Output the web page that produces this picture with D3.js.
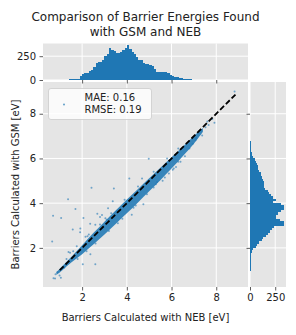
<!DOCTYPE html>
<html>
<head>
<meta charset="utf-8">
<script src="https://cdn.jsdelivr.net/npm/d3@7"></script>
<style>
	body { margin: 0; background: #fff; }
	svg text { font-family: "DejaVu Sans", sans-serif; fill: #222; }
	.tick line { stroke: #333; }
</style>
</head>
<body>
<svg id="chart" width="296" height="335"></svg>
<script>
// histogram bins, width 0.1 eV
const nebBinStart = 0.6;
const nebCounts = [1, 2, 3, 3, 4, 4, 5, 5, 6, 6, 7, 8, 10, 40, 58, 70, 78, 95, 110, 140,
	175, 185, 192, 212, 250, 275, 340, 318, 305, 285, 280, 292, 320, 332, 365, 330, 295, 270, 238, 215,
	208, 178, 172, 165, 160, 148, 120, 88, 84, 82, 85, 80, 70, 55, 40, 35, 30, 22, 16, 13,
	10, 8, 6, 5, 4, 4, 3, 3, 3, 2, 2, 2, 2, 1, 1, 1, 1, 1, 1, 1, 1, 1, 1, 1];
const gsmBinStart = 0.5;
const gsmCounts = [1, 2, 3, 4, 4, 5, 5, 6, 6, 7, 8, 10, 14, 20, 32, 55, 72, 90, 115, 130,
	157, 180, 195, 222, 240, 335, 340, 300, 262, 258, 275, 310, 335, 340, 305, 230, 262, 225, 210, 190,
	175, 150, 140, 142, 138, 130, 118, 110, 105, 90, 80, 75, 72, 60, 50, 30, 22, 16, 12, 9,
	7, 6, 5, 4, 4, 3, 3, 3, 2, 2, 2, 2, 1, 1, 1, 1, 1, 1, 1, 1, 1, 1, 1, 1, 1];

// dense band of points (upper / lower envelope of GSM per NEB)
const bandNEB = [0.85, 1.0, 1.5, 2.0, 2.5, 3.0, 3.5, 4.0, 4.5, 5.0, 5.5, 6.0, 6.5, 7.0, 7.4];
const bandHi = [0.92, 1.07, 1.58, 2.12, 2.66, 3.17, 3.67, 4.16, 4.63, 5.11, 5.58, 6.05, 6.52, 7.00, 7.36];
const bandLo = [0.80, 0.90, 1.33, 1.72, 2.15, 2.60, 3.07, 3.55, 4.03, 4.53, 5.03, 5.55, 6.10, 6.66, 7.18];

// single points outside the dense band
const pointNEB = [0.70, 1.06, 0.66, 1.37, 1.70, 1.58, 1.92, 2.03, 2.59, 2.37, 2.42, 3.42, 3.37, 2.89, 3.04,
	4.98, 4.68, 7.92, 8.82, 0.81, 0.72, 0.90, 2.59, 2.15, 3.16, 4.11, 7.33, 5.35, 5.88, 7.22,
	7.52, 7.37, 7.07, 7.66, 6.95, 7.82, 1.91, 2.06, 2.36, 2.68, 2.80, 1.46, 1.05, 0.79, 0.99,
	1.39, 1.76, 2.24, 3.10, 3.55, 4.22, 4.74, 5.60, 6.20, 6.40, 6.05, 5.20, 4.40, 3.80, 1.20,
	3.20, 3.60, 4.30, 4.90, 5.30, 5.70, 6.10, 6.30, 6.60, 6.80, 7.10, 2.20, 2.60, 1.80, 2.80,
	3.30, 3.90, 4.50, 5.20, 5.80, 6.30, 1.30, 1.60, 2.30, 7.60];
const pointGSM = [3.44, 3.34, 2.28, 4.18, 3.74, 2.82, 2.87, 1.27, 1.27, 1.71, 4.69, 4.66, 4.09, 3.47, 3.32,
	5.99, 5.10, 7.60, 8.99, 0.82, 0.64, 0.91, 3.03, 2.50, 3.77, 5.10, 7.26, 4.95, 5.33, 7.18,
	7.40, 7.03, 6.81, 7.50, 6.66, 7.77, 2.70, 3.34, 3.08, 3.53, 3.38, 1.78, 0.66, 0.63, 0.77,
	1.82, 2.07, 2.52, 3.26, 3.63, 3.48, 3.95, 5.00, 5.62, 5.85, 5.50, 4.70, 3.90, 3.30, 1.12,
	2.75, 3.10, 3.80, 4.40, 4.85, 5.15, 5.55, 5.85, 6.10, 6.45, 6.90, 1.85, 2.20, 1.50, 3.05,
	3.55, 4.15, 4.75, 5.40, 6.00, 6.45, 1.50, 1.85, 2.60, 7.65];

const lineEnds = [1.0, 8.92];
const axisTicks = [2, 4, 6, 8];
const countTicks = [0, 250];
const legendLines = ['MAE: 0.16', 'RMSE: 0.19'];
const titleLines = ['Comparison of Barrier Energies Found', 'with GSM and NEB'];

const blue = '#1f77b4';
const bg = '#e5e5e5';

let svg = d3.select('#chart');

let main = {left: 43, right: 248, top: 82, bottom: 287};
let topH = {top: 43.5, bottom: 80};
let rightH = {left: 250, right: 286};

let x = d3.scaleLinear().domain([0.25, 9.42]).range([main.left, main.right]);
let y = d3.scaleLinear().domain([0.25, 9.42]).range([main.bottom, main.top]);
let cTop = d3.scaleLinear().domain([0, d3.max(nebCounts) * 1.05]).range([topH.bottom, topH.top]);
let cRight = d3.scaleLinear().domain([0, d3.max(gsmCounts) * 1.05]).range([rightH.left, rightH.right]);

function panel(x0, y0, x1, y1) {
	svg.append('rect')
		.attr('x', x0).attr('y', y0)
		.attr('width', x1 - x0).attr('height', y1 - y0)
		.attr('fill', bg);
}

function styleAxis(g) {
	g.select('.domain').remove();
	g.selectAll('.tick line').attr('stroke', '#333').attr('stroke-width', 0.8);
	g.selectAll('.tick text').attr('font-size', 10).attr('fill', '#222');
}

// backgrounds
panel(main.left, main.top, main.right, main.bottom);
panel(main.left, topH.top, main.right, topH.bottom);
panel(rightH.left, main.top, rightH.right, main.bottom);

// grid lines
let grid = svg.append('g').attr('stroke', '#fff').attr('stroke-width', 1);
axisTicks.forEach((t) => {
	grid.append('line').attr('x1', x(t)).attr('x2', x(t)).attr('y1', main.top).attr('y2', main.bottom);
	grid.append('line').attr('x1', main.left).attr('x2', main.right).attr('y1', y(t)).attr('y2', y(t));
	grid.append('line').attr('x1', x(t)).attr('x2', x(t)).attr('y1', topH.top).attr('y2', topH.bottom);
	grid.append('line').attr('x1', rightH.left).attr('x2', rightH.right).attr('y1', y(t)).attr('y2', y(t));
});
countTicks.forEach((t) => {
	grid.append('line').attr('x1', main.left).attr('x2', main.right).attr('y1', cTop(t)).attr('y2', cTop(t));
	grid.append('line').attr('x1', cRight(t)).attr('x2', cRight(t)).attr('y1', main.top).attr('y2', main.bottom);
});

// top histogram (NEB)
svg.append('g').attr('shape-rendering', 'crispEdges').selectAll('rect')
	.data(nebCounts)
	.enter().append('rect')
	.attr('x', (d, i) => x(nebBinStart + i * 0.1))
	.attr('width', (d, i) => x(nebBinStart + (i + 1) * 0.1) - x(nebBinStart + i * 0.1) + 0.3)
	.attr('y', (d) => cTop(d))
	.attr('height', (d) => cTop(0) - cTop(d))
	.attr('fill', blue);

// right histogram (GSM)
svg.append('g').attr('shape-rendering', 'crispEdges').selectAll('rect')
	.data(gsmCounts)
	.enter().append('rect')
	.attr('x', cRight(0))
	.attr('width', (d) => cRight(d) - cRight(0))
	.attr('y', (d, i) => y(gsmBinStart + (i + 1) * 0.1))
	.attr('height', (d, i) => y(gsmBinStart + i * 0.1) - y(gsmBinStart + (i + 1) * 0.1) + 0.3)
	.attr('fill', blue);

// dense band
let band = bandNEB.map((d, i) => ({x: d, lo: bandLo[i], hi: bandHi[i]}));
svg.append('path')
	.datum(band)
	.attr('d', d3.area()
		.x((d) => x(d.x))
		.y0((d) => y(d.lo))
		.y1((d) => y(d.hi))
		.curve(d3.curveCatmullRom))
	.attr('fill', blue)
	.attr('fill-opacity', 0.88);

// scattered points
svg.append('g').selectAll('circle')
	.data(pointNEB)
	.enter().append('circle')
	.attr('cx', (d) => x(d))
	.attr('cy', (d, i) => y(pointGSM[i]))
	.attr('r', 1)
	.attr('fill', blue)
	.attr('fill-opacity', 0.6);

// parity line
svg.append('line')
	.attr('x1', x(lineEnds[0])).attr('y1', y(lineEnds[0]))
	.attr('x2', x(lineEnds[1])).attr('y2', y(lineEnds[1]))
	.attr('stroke', '#000')
	.attr('stroke-width', 1.8)
	.attr('stroke-dasharray', '5.5,2.6');

// axes
let ax = svg.append('g').attr('transform', 'translate(0,' + main.bottom + ')')
	.call(d3.axisBottom(x).tickValues(axisTicks).tickSize(3.5).tickPadding(3.5).tickFormat(d3.format('d')));
styleAxis(ax);
let ay = svg.append('g').attr('transform', 'translate(' + main.left + ',0)')
	.call(d3.axisLeft(y).tickValues(axisTicks).tickSize(3.5).tickPadding(3.5).tickFormat(d3.format('d')));
styleAxis(ay);
let atx = svg.append('g').attr('transform', 'translate(0,' + topH.bottom + ')')
	.call(d3.axisBottom(x).tickValues(axisTicks).tickSize(3.5).tickFormat(''));
styleAxis(atx);
let aty = svg.append('g').attr('transform', 'translate(' + main.left + ',0)')
	.call(d3.axisLeft(cTop).tickValues(countTicks).tickSize(3.5).tickPadding(3.5));
styleAxis(aty);
let arx = svg.append('g').attr('transform', 'translate(0,' + main.bottom + ')')
	.call(d3.axisBottom(cRight).tickValues(countTicks).tickSize(3.5).tickPadding(3.5));
styleAxis(arx);
let ary = svg.append('g').attr('transform', 'translate(' + rightH.left + ',0)')
	.call(d3.axisLeft(y).tickValues(axisTicks).tickSize(3.5).tickFormat(''));
styleAxis(ary);

// legend
let lg = svg.append('g');
lg.append('rect')
	.attr('x', 48.5).attr('y', 88.5)
	.attr('width', 103).attr('height', 31)
	.attr('rx', 2.5)
	.attr('fill', '#fff').attr('fill-opacity', 0.8)
	.attr('stroke', '#cccccc').attr('stroke-width', 0.8);
lg.append('circle')
	.attr('cx', 64).attr('cy', 104.5).attr('r', 1)
	.attr('fill', blue).attr('fill-opacity', 0.7);
legendLines.forEach((t, i) => {
	lg.append('text')
		.attr('x', 84.5)
		.attr('y', 101 + i * 11.7)
		.attr('font-size', 10)
		.text(t);
});

// title
titleLines.forEach((t, i) => {
	svg.append('text')
		.attr('x', (main.left + main.right) / 2)
		.attr('y', 20.5 + i * 15.3)
		.attr('text-anchor', 'middle')
		.attr('font-size', 12)
		.text(t);
});

// axis labels
svg.append('text')
	.attr('x', (main.left + main.right) / 2)
	.attr('y', 320.5)
	.attr('text-anchor', 'middle')
	.attr('font-size', 10)
	.text('Barriers Calculated with NEB [eV]');
svg.append('text')
	.attr('transform', 'translate(18.5,' + (main.top + main.bottom) / 2 + ') rotate(-90)')
	.attr('text-anchor', 'middle')
	.attr('font-size', 10)
	.text('Barriers Calculated with GSM [eV]');
</script>
</body>
</html>
